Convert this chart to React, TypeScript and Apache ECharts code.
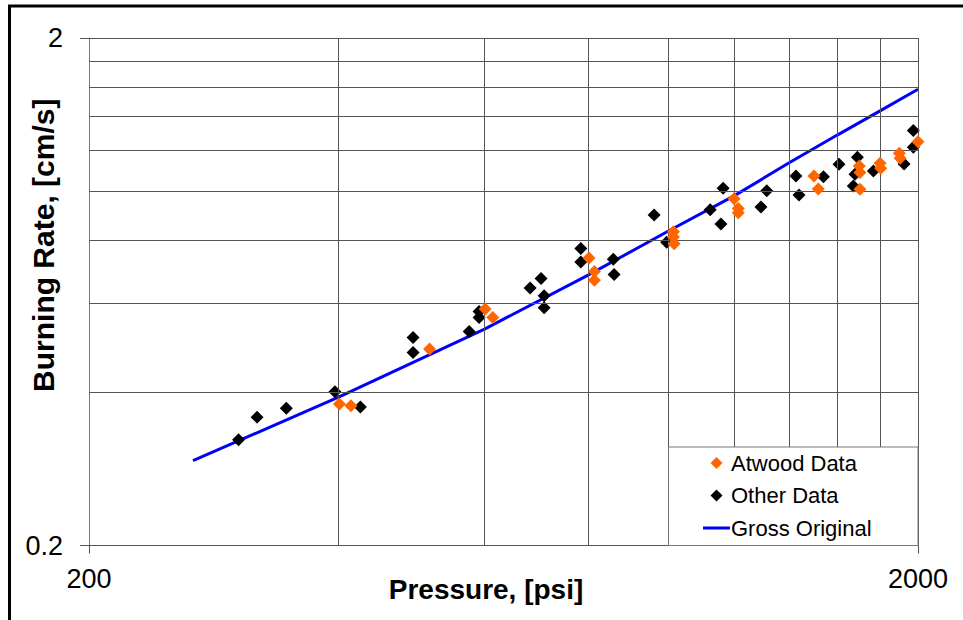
import React, { useEffect, useRef } from 'react';
import * as echarts from 'echarts';

// Atwood Data (pressure psi, burning rate cm/s)
const atwoodPressure = [401, 414, 515, 601, 614, 802, 814, 814, 1014, 1014, 1016, 1200, 1214, 1214, 1498, 1516, 1699, 1702, 1702, 1800, 1803, 1899, 1903, 2000];
const atwoodRate = [0.380, 0.377, 0.488, 0.585, 0.563, 0.737, 0.693, 0.666, 0.830, 0.811, 0.786, 0.964, 0.923, 0.905, 1.069, 1.008, 1.119, 1.086, 1.007, 1.133, 1.107, 1.186, 1.159, 1.249];

// Other Data
const otherPressure = [303, 319, 346, 396, 425, 492, 492, 575, 591, 591, 681, 702, 708, 708, 784, 784, 858, 860, 961, 995, 1123, 1157, 1164, 1293, 1314, 1425, 1437, 1538, 1606, 1690, 1679, 1671, 1767, 1924, 1974, 1974];
const otherRate = [0.323, 0.358, 0.373, 0.402, 0.375, 0.514, 0.480, 0.528, 0.578, 0.563, 0.643, 0.672, 0.621, 0.588, 0.770, 0.724, 0.733, 0.684, 0.896, 0.792, 0.917, 0.860, 1.011, 0.929, 1.000, 1.069, 0.981, 1.066, 1.128, 1.164, 1.078, 1.022, 1.094, 1.129, 1.314, 1.218];

// Gross Original curve
const grossPressure = [267, 400, 600, 800, 1000, 1200, 1400, 1600, 1800, 2000];
const grossRate = [0.294, 0.392, 0.534, 0.682, 0.833, 0.977, 1.137, 1.289, 1.437, 1.585];

// Grid lines and tick labels
const xGridLines = [400, 600, 800, 1000, 1200, 1400, 1600, 1800, 2000];
const yGridLines = [0.4, 0.6, 0.8, 1.0, 1.2, 1.4, 1.6, 1.8, 2];
const xTickLabels = [200, 2000];
const yTickLabels = [0.2, 2];

const FONT = 'Liberation Sans, Arial, Helvetica, sans-serif';
const DIAMOND = 'path://M6,0L12,6L6,12L0,6Z';

export default function App() {
  const ref = useRef<HTMLDivElement>(null);

  useEffect(() => {
    if (!ref.current) return;
    const chart = echarts.init(ref.current, undefined, { renderer: 'svg' });
    const zip = (xs: number[], ys: number[]) => xs.map((x, i) => [x, ys[i]]);

    const option: any = {
      animation: false,
      backgroundColor: '#ffffff',
      textStyle: { fontFamily: FONT },
      grid: { left: 89, right: 45, top: 38, bottom: 74.5, containLabel: false, outerBoundsMode: 'none' },
      xAxis: {
        type: 'log',
        logBase: 10,
        min: 200,
        max: 2000,
        name: 'Pressure, [psi]',
        nameLocation: 'middle',
        nameGap: 30,
        nameMoveOverlap: false,
        nameTextStyle: { fontSize: 28, fontWeight: 'bold', color: '#000', fontFamily: FONT, padding: [0, 35, 0, 0] },
        axisLine: { show: true, lineStyle: { color: '#555', width: 1 } },
        axisTick: { show: true, customValues: xTickLabels, length: 8, inside: false, lineStyle: { color: '#555' } },
        axisLabel: {
          customValues: xTickLabels,
          fontSize: 27,
          color: '#000',
          margin: 20,
          fontFamily: FONT,
          formatter: (v: number) => String(Math.round(v)),
        },
        splitLine: { show: false },
        minorTick: { show: false },
        minorSplitLine: { show: false },
      },
      yAxis: {
        type: 'log',
        logBase: 10,
        min: 0.2,
        max: 2,
        name: 'Burning Rate, [cm/s]',
        nameLocation: 'middle',
        nameRotate: 90,
        nameGap: 31,
        nameMoveOverlap: false,
        nameTextStyle: { fontSize: 30, fontWeight: 'bold', color: '#000', fontFamily: FONT, padding: [0, 0, 0, 93] },
        axisLine: { show: true, lineStyle: { color: '#777', width: 1 } },
        axisTick: { show: true, customValues: yTickLabels, length: 9, inside: false, lineStyle: { color: '#555' } },
        axisLabel: {
          customValues: yTickLabels,
          fontSize: 27,
          color: '#000',
          margin: 26,
          fontFamily: FONT,
          formatter: (v: number) => String(+v.toPrecision(3)),
        },
        splitLine: { show: false },
        minorTick: { show: false },
        minorSplitLine: { show: false },
      },
      legend: {
        orient: 'vertical',
        left: 703,
        top: 452,
        padding: 0,
        itemWidth: 27,
        itemHeight: 12,
        itemGap: 10.5,
        z: 11,
        textStyle: { fontSize: 22, color: '#000', fontFamily: FONT, lineHeight: 22, padding: [0, 0, 0, -4] },
        data: [
          { name: 'Atwood Data', icon: DIAMOND },
          { name: 'Other Data', icon: DIAMOND },
          { name: 'Gross Original', icon: 'path://M0,0 L27,0 L27,3 L0,3 Z' },
        ],
      },
      graphic: [
        {
          type: 'rect',
          z: 10,
          shape: { x: 668.5, y: 447, width: 249.5, height: 98.5 },
          style: { fill: '#ffffff', stroke: '#777', lineWidth: 1 },
          silent: true,
        },
        {
          type: 'rect',
          z: 20,
          shape: { x: 9.5, y: 6, width: 1000, height: 1000 },
          style: { fill: 'none', stroke: '#000', lineWidth: 3 },
          silent: true,
        },
      ],
      series: [
        {
          name: 'grid',
          type: 'line',
          data: [],
          z: 1,
          silent: true,
          markLine: {
            silent: true,
            symbol: 'none',
            animation: false,
            label: { show: false },
            lineStyle: { color: '#555', width: 1, type: 'solid' },
            emphasis: { disabled: true },
            data: [
              ...xGridLines.map((v) => ({ xAxis: v })),
              ...yGridLines.map((v) => ({ yAxis: v })),
            ],
          },
        },
        {
          name: 'Gross Original',
          type: 'line',
          data: zip(grossPressure, grossRate),
          symbol: 'none',
          smooth: false,
          z: 3,
          lineStyle: { color: '#0000ff', width: 3 },
          itemStyle: { color: '#0000ff' },
        },
        {
          name: 'Other Data',
          type: 'scatter',
          data: zip(otherPressure, otherRate),
          symbol: 'diamond',
          symbolSize: 13,
          z: 4,
          itemStyle: { color: '#000000', opacity: 1 },
        },
        {
          name: 'Atwood Data',
          type: 'scatter',
          data: zip(atwoodPressure, atwoodRate),
          symbol: 'diamond',
          symbolSize: 13,
          z: 5,
          itemStyle: { color: '#ff6600', opacity: 1 },
        },
      ],
    };

    chart.setOption(option);
    return () => chart.dispose();
  }, []);

  return (
    <div
      ref={ref}
      style={{ position: 'fixed', left: 0, top: 0, width: 963, height: 620, background: '#fff' }}
    />
  );
}
